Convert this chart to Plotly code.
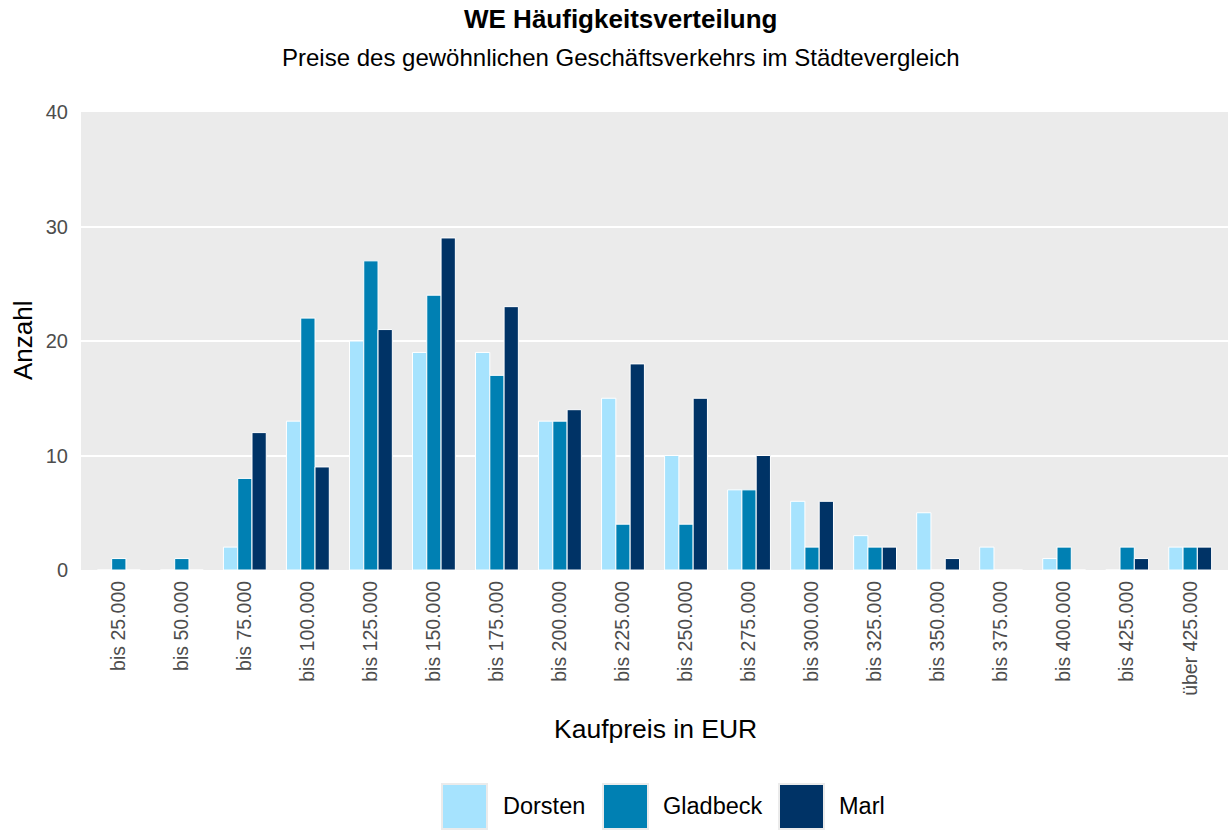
import plotly.graph_objects as go

categories = ["bis 25.000", "bis 50.000", "bis 75.000", "bis 100.000", "bis 125.000",
              "bis 150.000", "bis 175.000", "bis 200.000", "bis 225.000", "bis 250.000",
              "bis 275.000", "bis 300.000", "bis 325.000", "bis 350.000", "bis 375.000",
              "bis 400.000", "bis 425.000", "über 425.000"]
dorsten = [0, 0, 2, 13, 20, 19, 19, 13, 15, 10, 7, 6, 3, 5, 2, 1, 0, 2]
gladbeck = [1, 1, 8, 22, 27, 24, 17, 13, 4, 4, 7, 2, 2, 0, 0, 2, 2, 2]
marl = [0, 0, 12, 9, 21, 29, 23, 14, 18, 15, 10, 6, 2, 1, 0, 0, 1, 2]
series_names = ["Dorsten", "Gladbeck", "Marl"]
colors = ["#A6E3FE", "#0080B3", "#003366"]
y_ticks = [0, 10, 20, 30, 40]

W, H = 1231, 830
ML, MR, MT, MB = 81, 3, 112, 260
PW = W - ML - MR
PH = H - MT - MB


def px_x(p):
    return (p - ML) / PW


def px_y(p):
    return (H - MB - p) / PH


fig = go.Figure()
for name, vals, col in zip(series_names, [dorsten, gladbeck, marl], colors):
    fig.add_trace(go.Bar(
        x=categories, y=vals, name=name,
        marker=dict(color=col, line=dict(color="white", width=1)),
        showlegend=False,
    ))

font_family = "Liberation Sans, Arial, sans-serif"

annotations = [
    dict(text="<b>WE Häufigkeitsverteilung</b>", x=px_x(621), y=px_y(19),
         xref="paper", yref="paper", showarrow=False, xanchor="center", yanchor="middle",
         font=dict(size=26, color="black", family=font_family)),
    dict(text="Preise des gewöhnlichen Geschäftsverkehrs im Städtevergleich", x=px_x(621), y=px_y(57),
         xref="paper", yref="paper", showarrow=False, xanchor="center", yanchor="middle",
         font=dict(size=24, color="black", family=font_family)),
    dict(text="Kaufpreis in EUR", x=px_x(655), y=px_y(729),
         xref="paper", yref="paper", showarrow=False, xanchor="center", yanchor="middle",
         font=dict(size=26.5, color="black", family=font_family)),
    dict(text="Anzahl", x=px_x(23), y=px_y(340), textangle=-90,
         xref="paper", yref="paper", showarrow=False, xanchor="center", yanchor="middle",
         font=dict(size=26, color="black", family=font_family)),
]

shapes = []
key_left = [442, 603, 779]
text_left = [501, 661, 837]
for name, col, kl, tl in zip(series_names, colors, key_left, text_left):
    shapes.append(dict(type="rect", xref="paper", yref="paper",
                       x0=px_x(kl), x1=px_x(kl + 45), y0=px_y(784), y1=px_y(829),
                       fillcolor=col, line=dict(color="#EBEBEB", width=2), layer="above"))
    annotations.append(dict(text=name, x=px_x(tl), y=px_y(806), xref="paper", yref="paper",
                            showarrow=False, xanchor="left", yanchor="middle",
                            font=dict(size=23.5, color="black", family=font_family)))

fig.update_layout(
    width=W, height=H,
    margin=dict(l=ML, r=MR, t=MT, b=MB, pad=0),
    paper_bgcolor="white", plot_bgcolor="#EBEBEB",
    barmode="group", bargap=0.32, bargroupgap=0,
    font=dict(family=font_family),
    annotations=annotations, shapes=shapes,
    showlegend=False,
)
fig.update_xaxes(range=[-0.6, len(categories) - 0.4], showgrid=False, zeroline=False,
                 tickangle=-90, tickfont=dict(size=19.5, color="#4D4D4D", family=font_family),
                 ticks="", ticklabelstandoff=6, showline=False)
fig.update_yaxes(range=[0, 40], tickvals=y_ticks, showgrid=True, gridcolor="white", gridwidth=2,
                 zeroline=False, tickfont=dict(size=20, color="#4D4D4D", family=font_family),
                 ticks="", ticklabelstandoff=12, showline=False)

fig.write_html("out.html", config={"displayModeBar": False},
               post_script="document.body.style.margin='0';document.body.style.overflow='hidden';")
